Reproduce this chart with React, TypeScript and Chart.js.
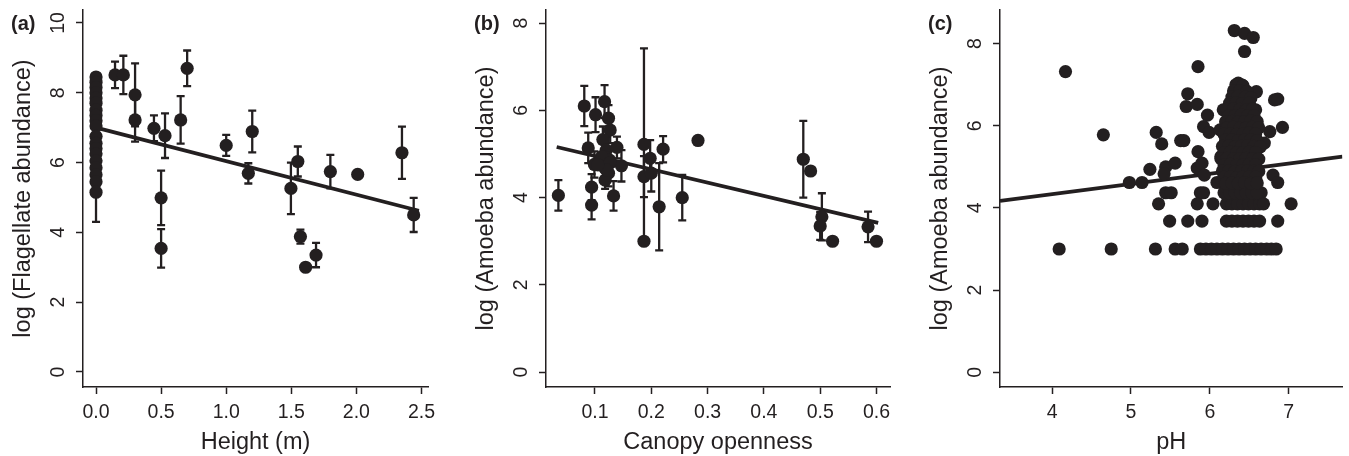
import React, { useEffect, useRef } from "react";
import { Chart, registerables } from "chart.js";
Chart.register(...registerables);

const INK = "#231f20";
const FONT = '"Liberation Sans", Arial, Helvetica, sans-serif';

// ---------- Panel (a): flagellates vs height ----------
// [height (m), log flagellate abundance, error half-width]
const flagellatePoints: number[][] = [
  [0, 8.45, 0], [0, 8.3, 0], [0, 8.15, 0], [0, 8.0, 0], [0, 7.85, 0], [0, 7.7, 0],
  [0, 7.5, 0], [0, 7.35, 0], [0, 7.2, 0], [0, 7.05, 0], [0, 6.75, 0], [0, 6.55, 0],
  [0, 6.4, 0], [0, 6.25, 0], [0, 6.05, 0], [0, 5.85, 0], [0, 5.65, 0], [0, 5.45, 0],
  [0, 5.15, 0.85],
  [0.146, 8.51, 0.38], [0.21, 8.51, 0.55], [0.3, 7.94, 0.9], [0.3, 7.22, 0.62],
  [0.445, 6.98, 0.37], [0.53, 6.77, 0.64], [0.5, 4.99, 0.78], [0.5, 3.54, 0.55],
  [0.65, 7.22, 0.68], [0.7, 8.7, 0.51], [1.0, 6.49, 0.3], [1.17, 5.69, 0.29],
  [1.2, 6.89, 0.6], [1.497, 5.26, 0.74], [1.55, 6.03, 0.43], [1.57, 3.88, 0.2],
  [1.61, 3.0, 0], [1.69, 3.35, 0.35], [1.8, 5.74, 0.48], [2.01, 5.66, 0],
  [2.35, 6.28, 0.75], [2.44, 4.5, 0.49],
];
const heightFitX = [0, 2.48];
const flagellateFitY = [7.0, 4.62];
const heightTicks = [0, 0.5, 1, 1.5, 2, 2.5];
const heightTickLabels = ["0.0", "0.5", "1.0", "1.5", "2.0", "2.5"];
const flagellateTicks = [0, 2, 4, 6, 8, 10];
const heightRange = [-0.1, 2.55];
const flagellateRange = [-0.43, 10.37];

// ---------- Panel (b): amoebae vs canopy openness ----------
const canopyPoints: number[][] = [
  [0.035, 4.05, 0.35], [0.081, 6.1, 0.46], [0.088, 5.14, 0.35], [0.094, 4.24, 0.3],
  [0.094, 3.83, 0.33], [0.101, 5.9, 0.4], [0.099, 4.76, 0.3], [0.117, 6.2, 0.38],
  [0.124, 5.82, 0.3], [0.127, 5.55, 0.3], [0.114, 5.33, 0.3], [0.12, 5.09, 0.3],
  [0.117, 4.94, 0.3], [0.126, 4.86, 0.3], [0.118, 4.67, 0.3], [0.124, 4.56, 0.3],
  [0.118, 4.4, 0.2], [0.139, 5.15, 0.25], [0.147, 4.73, 0.36], [0.133, 4.04, 0.34],
  [0.112, 4.94, 0], [0.127, 4.8, 0], [0.121, 4.63, 0], [0.105, 4.75, 0],
  [0.187, 5.22, 2.2], [0.187, 4.48, 0.47], [0.187, 3.0, 0], [0.198, 4.9, 0.42],
  [0.2, 4.56, 0.42], [0.214, 3.79, 1.0], [0.221, 5.11, 0.3], [0.255, 4.0, 0.52],
  [0.283, 5.31, 0], [0.47, 4.88, 0.88], [0.483, 4.61, 0], [0.503, 3.56, 0.54],
  [0.5, 3.35, 0.32], [0.522, 3.0, 0], [0.585, 3.33, 0.35], [0.6, 3.0, 0],
];
const canopyFitX = [0.032, 0.603];
const canopyFitY = [5.16, 3.42];
const canopyTicks = [0.1, 0.2, 0.3, 0.4, 0.5, 0.6];
const canopyTickLabels = ["0.1", "0.2", "0.3", "0.4", "0.5", "0.6"];
const amoebaTicks = [0, 2, 4, 6, 8];
const canopyRange = [0.013, 0.624];
const canopyAmoebaRange = [-0.34, 8.3];

// ---------- Panel (c): amoebae vs pH ----------
const phScatter: number[][] = [
  [4.09, 3.0], [4.17, 7.32], [4.65, 5.78], [4.75, 3.0], [4.98, 4.62], [5.14, 4.62],
  [5.24, 4.94], [5.31, 3.0], [5.32, 5.84], [5.39, 5.56], [5.35, 4.1], [5.44, 5.0],
  [5.42, 4.83], [5.44, 4.37], [5.51, 4.37], [5.49, 3.68], [5.56, 5.09], [5.56, 3.0],
  [5.65, 3.0], [5.63, 5.64], [5.67, 5.64], [5.72, 6.78], [5.7, 6.47], [5.72, 3.68],
  [5.84, 6.52], [5.85, 7.44], [5.85, 5.37], [5.84, 4.97], [5.9, 5.09], [5.88, 4.37],
  [5.92, 4.37], [5.84, 4.1], [5.9, 3.68], [5.97, 6.26], [5.92, 5.98], [5.99, 5.84],
  [5.93, 4.8], [6.04, 4.1], [6.09, 4.62], [6.13, 5.9], [6.17, 6.39], [6.14, 5.25],
  [6.31, 8.32], [6.44, 8.25], [6.55, 8.15], [6.44, 7.81], [6.36, 7.04], [6.4, 7.0],
  [6.59, 6.83], [6.58, 6.39], [6.82, 6.63], [6.86, 6.65], [6.92, 5.96], [6.76, 5.86],
  [6.69, 5.58], [6.8, 4.8], [6.86, 4.62], [7.03, 4.1], [6.86, 3.68], [6.65, 4.37],
];
const phRow300 = [5.88, 5.95, 6.02, 6.09, 6.16, 6.23, 6.3, 6.37, 6.44, 6.51, 6.58, 6.65, 6.72, 6.78, 6.84];
const phRow368 = [6.21, 6.28, 6.35, 6.42, 6.49, 6.56, 6.63];
const phRow410 = [6.21, 6.28, 6.35, 6.42, 6.49, 6.56, 6.63, 6.68];
const phRow437 = [6.18, 6.25, 6.32, 6.39, 6.46, 6.53, 6.6];
const phCluster: number[][] = [
  [6.33, 7.0], [6.42, 6.98],
  [6.3, 6.85], [6.38, 6.86], [6.47, 6.84],
  [6.28, 6.7], [6.36, 6.72], [6.45, 6.7], [6.52, 6.68],
  [6.25, 6.55], [6.33, 6.56], [6.41, 6.54], [6.5, 6.55],
  [6.22, 6.4], [6.3, 6.42], [6.38, 6.4], [6.46, 6.38], [6.54, 6.41],
  [6.24, 6.25], [6.32, 6.24], [6.4, 6.26], [6.48, 6.25], [6.56, 6.24],
  [6.2, 6.1], [6.28, 6.11], [6.36, 6.09], [6.44, 6.1], [6.52, 6.12], [6.6, 6.1],
  [6.22, 5.95], [6.3, 5.96], [6.38, 5.94], [6.46, 5.95], [6.54, 5.96], [6.62, 5.95],
  [6.18, 5.8], [6.26, 5.81], [6.34, 5.79], [6.42, 5.8], [6.5, 5.82], [6.58, 5.8],
  [6.2, 5.65], [6.28, 5.66], [6.36, 5.64], [6.44, 5.65], [6.52, 5.66], [6.6, 5.64],
  [6.16, 5.5], [6.24, 5.51], [6.32, 5.49], [6.4, 5.5], [6.48, 5.52], [6.56, 5.5], [6.64, 5.49],
  [6.18, 5.35], [6.26, 5.36], [6.34, 5.34], [6.42, 5.35], [6.5, 5.36], [6.58, 5.35],
  [6.14, 5.2], [6.22, 5.21], [6.3, 5.19], [6.38, 5.2], [6.46, 5.21], [6.54, 5.2], [6.62, 5.19],
  [6.18, 5.05], [6.26, 5.06], [6.34, 5.04], [6.42, 5.05], [6.5, 5.06], [6.58, 5.05],
  [6.16, 4.9], [6.24, 4.91], [6.32, 4.89], [6.4, 4.9], [6.48, 4.91], [6.56, 4.9], [6.62, 4.89],
  [6.18, 4.75], [6.26, 4.76], [6.34, 4.74], [6.42, 4.75], [6.5, 4.76], [6.58, 4.75],
  [6.2, 4.6], [6.28, 4.61], [6.36, 4.6], [6.44, 4.62], [6.52, 4.6], [6.6, 4.61],
];
const phFitX = [3.34, 7.68];
const phFitY = [4.17, 5.25];
const phTicks = [4, 5, 6, 7];
const phTickLabels = ["4", "5", "6", "7"];
const phRange = [3.34, 7.68];
const phAmoebaRange = [-0.36, 8.82];

const phPoints: number[][] = [
  ...phScatter,
  ...phRow300.map((x) => [x, 3.0]),
  ...phRow368.map((x) => [x, 3.68]),
  ...phRow410.map((x) => [x, 4.1]),
  ...phRow437.map((x) => [x, 4.37]),
  ...phCluster,
].map((p) => [p[0], p[1], 0]);

const W = 1349;
const H = 456;

const PANELS = [
  {
    tag: "(a)", xTitle: "Height (m)", yTitle: "log (Flagellate abundance)",
    points: flagellatePoints, fitX: heightFitX, fitY: flagellateFitY,
    xTicks: heightTicks, xLabels: heightTickLabels, yTicks: flagellateTicks,
    xRange: heightRange, yRange: flagellateRange,
    area: { left: 83, right: 428, top: 10, bottom: 387 },
  },
  {
    tag: "(b)", xTitle: "Canopy openness", yTitle: "log (Amoeba abundance)",
    points: canopyPoints, fitX: canopyFitX, fitY: canopyFitY,
    xTicks: canopyTicks, xLabels: canopyTickLabels, yTicks: amoebaTicks,
    xRange: canopyRange, yRange: canopyAmoebaRange,
    area: { left: 546, right: 890, top: 10, bottom: 387 },
  },
  {
    tag: "(c)", xTitle: "pH", yTitle: "log (Amoeba abundance)",
    points: phPoints, fitX: phFitX, fitY: phFitY,
    xTicks: phTicks, xLabels: phTickLabels, yTicks: amoebaTicks,
    xRange: phRange, yRange: phAmoebaRange,
    area: { left: 1000, right: 1345, top: 10, bottom: 387 },
  },
];

type PanelDef = (typeof PANELS)[number];

function makeOverlay(p: PanelDef) {
  return {
    id: "overlay",
    beforeDatasetsDraw(chart: any) {
      const { ctx, scales } = chart;
      const x = scales.x;
      const y = scales.y;
      ctx.save();
      ctx.strokeStyle = INK;
      ctx.lineWidth = 2.3;
      ctx.lineCap = "butt";
      p.points.forEach((pt) => {
        const e = pt[2];
        if (!e) return;
        const px = x.getPixelForValue(pt[0]);
        const top = y.getPixelForValue(pt[1] + e);
        const bot = y.getPixelForValue(pt[1] - e);
        ctx.beginPath();
        ctx.moveTo(px, top);
        ctx.lineTo(px, bot);
        ctx.moveTo(px - 4, top);
        ctx.lineTo(px + 4, top);
        ctx.moveTo(px - 4, bot);
        ctx.lineTo(px + 4, bot);
        ctx.stroke();
      });
      ctx.restore();
    },
    afterDraw(chart: any) {
      const { ctx, scales, chartArea } = chart;
      const x = scales.x;
      const y = scales.y;
      ctx.save();
      ctx.fillStyle = INK;
      // y tick labels (rotated)
      ctx.font = `19.5px ${FONT}`;
      y.ticks.forEach((t: any) => {
        const py = y.getPixelForValue(t.value);
        ctx.save();
        ctx.translate(chartArea.left - 24, py);
        ctx.rotate(-Math.PI / 2);
        ctx.textAlign = "center";
        ctx.textBaseline = "middle";
        ctx.fillText(String(t.label), 0, 0);
        ctx.restore();
      });
      // x tick labels
      ctx.textAlign = "center";
      ctx.textBaseline = "alphabetic";
      x.ticks.forEach((t: any) => {
        ctx.fillText(String(t.label), x.getPixelForValue(t.value), 418);
      });
      // titles
      ctx.font = `23.5px ${FONT}`;
      ctx.fillText(p.xTitle, (chartArea.left + chartArea.right) / 2, 448.5);
      ctx.save();
      ctx.translate(chartArea.left - 53, (chartArea.top + chartArea.bottom) / 2);
      ctx.rotate(-Math.PI / 2);
      ctx.textAlign = "center";
      ctx.textBaseline = "alphabetic";
      ctx.fillText(p.yTitle, 0, 0);
      ctx.restore();
      // panel tag
      ctx.font = `bold 20px ${FONT}`;
      ctx.textAlign = "left";
      ctx.fillText(p.tag, chartArea.left - 72, 30);
      ctx.restore();
    },
  };
}

function axisCommon(fixSize: (s: any) => void) {
  return {
    type: "linear" as const,
    bounds: "data" as const,
    ticks: { display: false },
    grid: {
      drawOnChartArea: false,
      drawTicks: true,
      tickLength: 7,
      tickWidth: 1.5,
      tickColor: INK,
      color: INK,
    },
    border: { display: true, color: INK, width: 1.5 },
    afterFit: fixSize,
  };
}

function Panel({ p }: { p: PanelDef }) {
  const ref = useRef<HTMLCanvasElement | null>(null);
  useEffect(() => {
    if (!ref.current) return;
    const a = p.area;
    const chart = new Chart(ref.current, {
      type: "scatter",
      data: {
        datasets: [
          {
            data: p.points.map((pt) => ({ x: pt[0], y: pt[1] })),
            pointRadius: 6.6,
            pointHoverRadius: 6.6,
            pointBackgroundColor: INK,
            pointBorderWidth: 0,
            showLine: false,
          },
          {
            data: p.fitX.map((xv, i) => ({ x: xv, y: p.fitY[i] })),
            showLine: true,
            borderColor: INK,
            borderWidth: 3.8,
            pointRadius: 0,
            fill: false,
          },
        ],
      },
      options: {
        responsive: false,
        animation: false,
        devicePixelRatio: 1,
        events: [],
        layout: {
          padding: { left: a.left - 10, right: W - a.right, top: a.top, bottom: H - a.bottom - 69 },
        },
        plugins: { legend: { display: false }, tooltip: { enabled: false } },
        scales: {
          x: {
            ...axisCommon((s: any) => { s.height = 69; }),
            position: "bottom",
            min: p.xRange[0],
            max: p.xRange[1],
            ticks: { display: false, callback: (_v: any, i: number) => p.xLabels[i] },
            afterBuildTicks: (s: any) => { s.ticks = p.xTicks.map((v) => ({ value: v })); },
          },
          y: {
            ...axisCommon((s: any) => { s.width = 10; }),
            position: "left",
            min: p.yRange[0],
            max: p.yRange[1],
            ticks: { display: false, callback: (v: any) => String(v) },
            afterBuildTicks: (s: any) => { s.ticks = p.yTicks.map((v) => ({ value: v })); },
          },
        },
      } as any,
      plugins: [makeOverlay(p)],
    });
    return () => chart.destroy();
  }, [p]);
  return (
    <canvas
      ref={ref}
      width={W}
      height={H}
      style={{ position: "absolute", left: 0, top: 0, width: W, height: H }}
    />
  );
}

export default function App() {
  return (
    <div style={{ position: "fixed", left: 0, top: 0, width: W, height: H, background: "#fff" }}>
      {PANELS.map((p) => (
        <Panel key={p.tag} p={p} />
      ))}
    </div>
  );
}
